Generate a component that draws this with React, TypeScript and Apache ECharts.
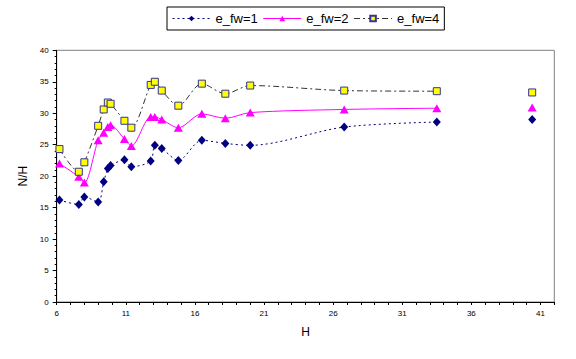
import React, { useEffect, useRef } from "react";
import * as echarts from "echarts";

const H = [6.2, 7.6, 8.0, 9.0, 9.4, 9.7, 9.9, 10.9, 11.4, 12.8, 13.1, 13.6, 14.8, 16.5, 18.2, 20.0, 26.8, 33.5, 40.4];
const fw1 = [16.2, 15.5, 16.7, 15.9, 19.1, 21.2, 21.7, 22.6, 21.5, 22.4, 24.9, 24.4, 22.5, 25.7, 25.2, 24.9, 27.8, 28.6, 29.0];
const fw2 = [22.0, 19.9, 19.0, 25.7, 26.9, 27.8, 28.1, 25.9, 24.8, 29.4, 29.4, 29.0, 27.7, 29.9, 29.2, 30.1, 30.6, 30.8, 30.9];
const fw4 = [24.3, 20.7, 22.2, 28.0, 30.6, 31.7, 31.5, 28.8, 27.7, 34.5, 35.0, 33.6, 31.2, 34.7, 33.1, 34.4, 33.6, 33.5, 33.3];
const seriesNames = ["e_fw=1", "e_fw=2", "e_fw=4"];
// the last measurement is drawn as a lone point (no connecting line)
const connectedCount = 18;

const FONT = 'Arial, "Liberation Sans", sans-serif';

function toData(vals: number[]) {
  const out: any[] = [];
  vals.forEach((v, i) => {
    if (i === connectedCount) out.push([(H[i - 1] + H[i]) / 2, "-"]);
    out.push([H[i], v]);
  });
  return out;
}

export default function App() {
  const ref = useRef<HTMLDivElement>(null);
  useEffect(() => {
    if (!ref.current) return;
    const chart = echarts.init(ref.current, undefined, { renderer: "svg" });
    chart.setOption({
      animation: false,
      backgroundColor: "#fff",
      legend: {
        left: 167,
        top: 7,
        padding: [5, 5, 5, 5],
        itemWidth: 38,
        itemHeight: 7,
        itemGap: 5,
        borderColor: "#000",
        borderWidth: 1,
        lineStyle: { width: 1 },
        textStyle: { fontFamily: FONT, fontSize: 13, color: "#000" },
        data: seriesNames,
      },
      grid: {
        left: 56.7,
        right: 21.7,
        top: 50.3,
        bottom: 57,
        show: true,
        borderColor: "#808080",
        borderWidth: 1,
        containLabel: false,
      },
      xAxis: {
        type: "value",
        min: 6,
        max: 42,
        interval: 1,
        name: "H",
        nameLocation: "middle",
        nameGap: 24,
        nameTextStyle: { fontFamily: FONT, fontSize: 12, color: "#000" },
        axisLine: { show: true, onZero: false, lineStyle: { color: "#000", width: 1 } },
        axisTick: { show: true, inside: false, length: 3, lineStyle: { color: "#000" } },
        axisLabel: {
          fontFamily: FONT,
          fontSize: 8,
          color: "#000",
          margin: 7,
          formatter: (v: number) => ((Math.round(v) - 6) % 5 === 0 && v < 42 ? String(v) : ""),
        },
        splitLine: { show: false },
      },
      yAxis: {
        type: "value",
        min: 0,
        max: 40,
        interval: 5,
        name: "N/H",
        nameLocation: "middle",
        nameGap: 26,
        nameTextStyle: { fontFamily: FONT, fontSize: 12, color: "#000" },
        axisLine: { show: true, lineStyle: { color: "#000", width: 1 } },
        axisTick: { show: true, inside: false, length: 4, lineStyle: { color: "#000" } },
        minorTick: { show: true, splitNumber: 5, length: 2, lineStyle: { color: "#000" } },
        axisLabel: { fontFamily: FONT, fontSize: 8, color: "#000", margin: 8 },
        splitLine: { show: false },
      },
      series: [
        {
          name: seriesNames[0],
          type: "line",
          smooth: 0.3,
          connectNulls: false,
          data: toData(fw1),
          symbol: "diamond",
          symbolSize: [8, 9],
          itemStyle: { color: "#000080" },
          lineStyle: { color: "#000080", width: 1, type: [2, 3] },
        },
        {
          name: seriesNames[1],
          type: "line",
          smooth: 0.3,
          connectNulls: false,
          data: toData(fw2),
          symbol: "triangle",
          symbolSize: [9, 8],
          itemStyle: { color: "#FF00FF" },
          lineStyle: { color: "#FF00FF", width: 1, type: "solid" },
        },
        {
          name: seriesNames[2],
          type: "line",
          smooth: 0.3,
          connectNulls: false,
          data: toData(fw4),
          symbol: "rect",
          symbolSize: 7,
          itemStyle: { color: "#FFFF00", borderColor: "#333399", borderWidth: 1 },
          lineStyle: { color: "#333333", width: 1, type: [6, 3, 2, 3] },
        },
      ],
    });
    return () => chart.dispose();
  }, []);
  return (
    <div
      ref={ref}
      style={{ position: "fixed", left: 0, top: 0, width: 576, height: 359, background: "#fff" }}
    />
  );
}
